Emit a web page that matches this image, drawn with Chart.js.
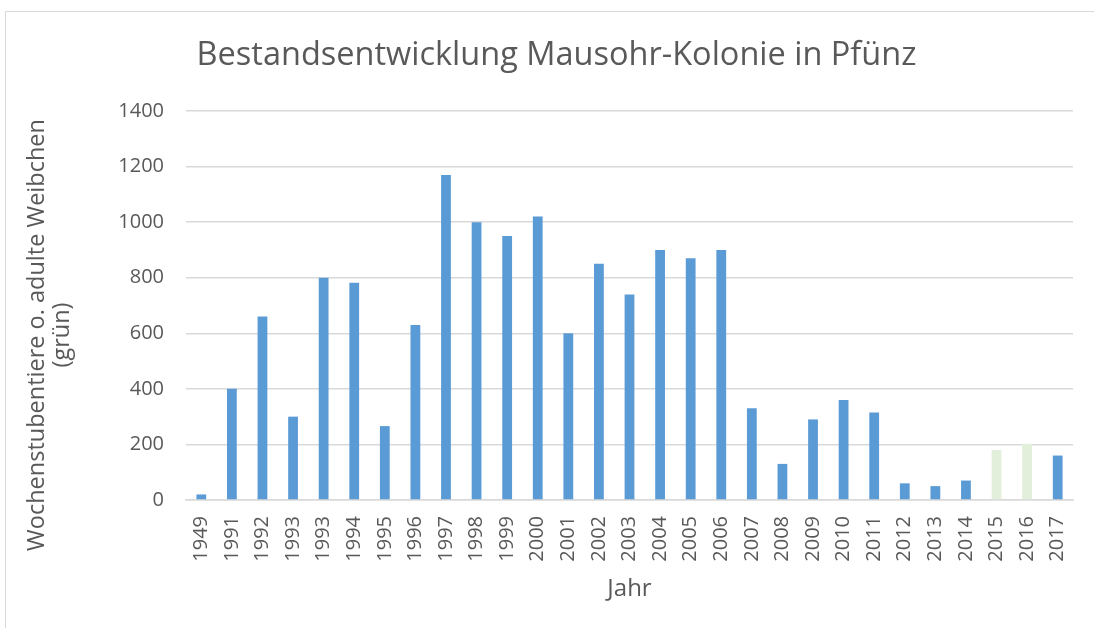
<!DOCTYPE html>
<html lang="de">
<head>
<meta charset="utf-8">
<title>Bestandsentwicklung Mausohr-Kolonie in Pfünz</title>
<script src="https://cdn.jsdelivr.net/npm/chart.js@4.4.1/dist/chart.umd.min.js"></script>
<style>
  html, body { margin: 0; padding: 0; background: #fff; }
  #wrap { position: relative; width: 1094px; height: 628px; overflow: hidden; }
  #frame { position: absolute; left: 5px; top: 11px; width: 1200px; height: 700px; border: 1px solid #d9d9d9; box-sizing: border-box; }
  #wrap canvas { position: absolute; left: 0; top: 0; }
</style>
</head>
<body>
<div id="wrap">
  <div id="frame"></div>
  <canvas id="chart" width="1094" height="628"></canvas>
</div>
<script>
// Jahre (1993 steht in der Quelle doppelt)
const jahre = ['1949', '1991', '1992', '1993', '1993', '1994', '1995', '1996', '1997', '1998',
  '1999', '2000', '2001', '2002', '2003', '2004', '2005', '2006', '2007', '2008',
  '2009', '2010', '2011', '2012', '2013', '2014', '2015', '2016', '2017'];
const tiere = [20, 400, 660, 300, 800, 782, 266, 630, 1170, 1000,
  950, 1020, 600, 850, 740, 900, 870, 900, 330, 130,
  290, 360, 315, 60, 50, 70, 180, 202, 160];
// Jahre mit adulten Weibchen statt Wochenstubentieren (grün)
const gruenJahre = ['2015', '2016'];
const yTicks = [0, 200, 400, 600, 800, 1000, 1200, 1400];
const yTitel = ['Wochenstubentiere o. adulte Weibchen', '(grün)'];

const BLAU = '#5b9bd5';
const GRUEN = '#e2efda';
const TEXT = '#595959';
const GRID = '#d9d9d9';
const FONT = "'Open Sans', 'Liberation Sans', sans-serif";

const farben = jahre.map(j => gruenJahre.includes(j) ? GRUEN : BLAU);

// Achsentitel links, zweizeilig und etwas unter die Mitte gesetzt
const yTitelPlugin = {
  id: 'yTitel',
  afterDraw(chart) {
    const ctx = chart.ctx;
    ctx.save();
    ctx.translate(37, 335);
    ctx.rotate(-Math.PI / 2);
    ctx.fillStyle = TEXT;
    ctx.font = `23.5px ${FONT}`;
    ctx.textAlign = 'center';
    ctx.textBaseline = 'middle';
    yTitel.forEach((zeile, i) => ctx.fillText(zeile, 0, i * 25));
    ctx.restore();
  }
};

new Chart(document.getElementById('chart'), {
  type: 'bar',
  data: {
    labels: jahre,
    datasets: [{
      data: tiere,
      backgroundColor: farben,
      borderWidth: 0,
      categoryPercentage: 1,
      barPercentage: 0.32
    }]
  },
  options: {
    responsive: false,
    animation: false,
    layout: { padding: { left: 40, right: 21, top: 18, bottom: 0 } },
    plugins: {
      legend: { display: false },
      tooltip: { enabled: false },
      title: {
        display: true,
        text: 'Bestandsentwicklung Mausohr-Kolonie in Pfünz',
        color: TEXT,
        font: { family: FONT, size: 32.5, weight: 'normal', lineHeight: 1.2 },
        padding: { top: 18, bottom: 36 }
      }
    },
    scales: {
      x: {
        grid: { display: false, drawTicks: false },
        border: { color: GRID, width: 1.5 },
        ticks: {
          color: TEXT,
          font: { family: FONT, size: 20 },
          minRotation: 90,
          maxRotation: 90,
          autoSkip: false,
          padding: 16
        },
        title: {
          display: true,
          text: 'Jahr',
          color: TEXT,
          font: { family: FONT, size: 24, lineHeight: 1.2 },
          padding: { top: 0, bottom: 24 }
        },
        afterFit: s => {
          s.height = 128;
          s.paddingLeft = 0;
          s.paddingRight = 0;
        }
      },
      y: {
        min: 0,
        max: 1400,
        afterBuildTicks: s => { s.ticks = yTicks.map(v => ({ value: v })); },
        grid: { color: GRID, lineWidth: 1.5, drawTicks: false },
        border: { display: false },
        ticks: {
          color: TEXT,
          font: { family: FONT, size: 20 },
          padding: 22,
          callback: v => String(v)
        },
        afterFit: s => {
          s.width = 146;
          s.paddingTop = 0;
          s.paddingBottom = 0;
        }
      }
    }
  },
  plugins: [yTitelPlugin]
});
</script>
</body>
</html>
